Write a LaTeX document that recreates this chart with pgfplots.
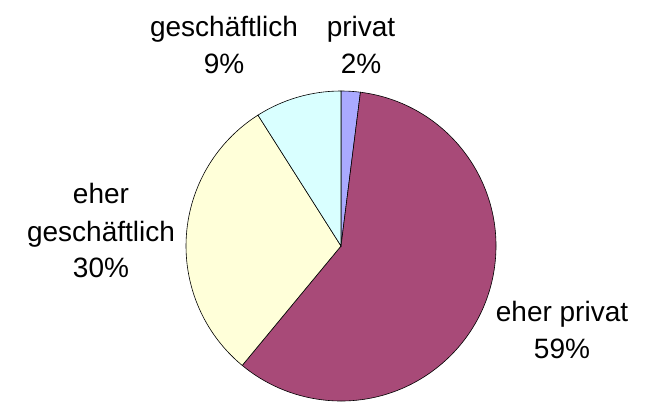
\documentclass[border=0pt]{standalone}
\usepackage{pgfplots}
\pgfplotsset{compat=1.18}
\usepackage{fontspec}
\setmainfont{Liberation Sans}
\definecolor{cPriv}{RGB}{170,170,255}
\definecolor{cEherPriv}{RGB}{168,74,120}
\definecolor{cEherGesch}{RGB}{255,255,217}
\definecolor{cGesch}{RGB}{217,255,255}
\tikzset{lab/.style={anchor=base,inner sep=0pt,font=\fontsize{28bp}{34bp}\selectfont}}
% shares in percent: privat 2, eher privat 59, eher geschaeftlich 30, geschaeftlich 9
\begin{document}
\begin{tikzpicture}
\begin{axis}[width=647bp,height=402bp,scale only axis,
  xmin=0,xmax=647,ymin=0,ymax=402,axis lines=none,clip=false]
\path (axis cs:0,0) rectangle (axis cs:647,402);
\addplot[draw=none,forget plot] coordinates {(341,156)};
% privat 2%
\filldraw[fill=cPriv,draw=black,line width=0.6bp] (axis cs:341,156) -- ++(90:155bp)
  arc[start angle=90, end angle={90-3.6*2}, radius=155bp] -- cycle;
% eher privat 59%
\filldraw[fill=cEherPriv,draw=black,line width=0.6bp] (axis cs:341,156) -- ++({90-3.6*2}:155bp)
  arc[start angle={90-3.6*2}, end angle={90-3.6*(2+59)}, radius=155bp] -- cycle;
% eher geschaeftlich 30%
\filldraw[fill=cEherGesch,draw=black,line width=0.6bp] (axis cs:341,156) -- ++({90-3.6*61}:155bp)
  arc[start angle={90-3.6*61}, end angle={90-3.6*(61+30)}, radius=155bp] -- cycle;
% geschaeftlich 9%
\filldraw[fill=cGesch,draw=black,line width=0.6bp] (axis cs:341,156) -- ++({90-3.6*91}:155bp)
  arc[start angle={90-3.6*91}, end angle={90-3.6*(91+9)}, radius=155bp] -- cycle;
% labels
\node[lab] at (axis cs:224,365) {geschäftlich};
\node[lab] at (axis cs:224,328) {9\%};
\node[lab] at (axis cs:361,365) {privat};
\node[lab] at (axis cs:361,328) {2\%};
\node[lab] at (axis cs:562,80) {eher privat};
\node[lab] at (axis cs:562,43) {59\%};
\node[lab] at (axis cs:101,198) {eher};
\node[lab] at (axis cs:101,160) {geschäftlich};
\node[lab] at (axis cs:101,124) {30\%};
\end{axis}
\end{tikzpicture}
\end{document}
